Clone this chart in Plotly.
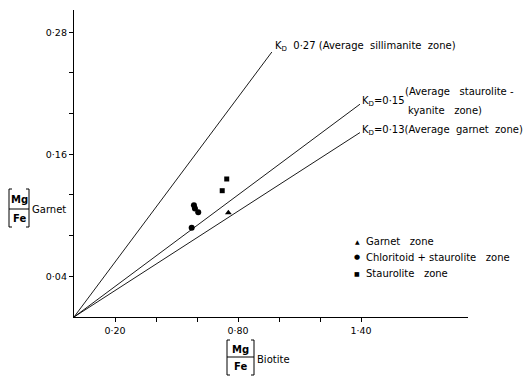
import plotly.graph_objects as go

# ---- data ----
kd_values = [0.27, 0.15, 0.13]
kd_xmax = [0.965, 1.395, 1.395]

garnet_zone_bio = [0.753]
garnet_zone_gt = [0.1026]

chloritoid_bio = [0.585, 0.590, 0.606, 0.574]
chloritoid_gt = [0.110, 0.1067, 0.1030, 0.0878]

staurolite_bio = [0.745, 0.723]
staurolite_gt = [0.1357, 0.1242]

x_tickvals = [0.2, 0.4, 0.6, 0.8, 1.0, 1.2, 1.4]
x_ticktext = ["0·20", "", "", "0·80", "", "", "1·40"]
y_tickvals = [0.04, 0.08, 0.12, 0.16, 0.20, 0.24, 0.28]
y_ticktext = ["0·04", "", "", "0·16", "", "", "0·28"]

# ---- layout geometry (page has an 8px body margin) ----
OFF = 8
W, H = 532 - OFF, 377 - OFF
L, T = 74 - OFF, 10 - OFF
PW, PH = 394, 307
R = W - L - PW
B = H - T - PH
XMAX = PW / 205.0
YMAX = PH / 1017.0

def px(xr):
    return (xr - 74) / PW

def py(yr):
    return (317 - yr) / PH

FONT = "DejaVu Sans"
FS = 10

fig = go.Figure()

for kd, xm in zip(kd_values, kd_xmax):
    fig.add_trace(go.Scatter(x=[0, xm], y=[0, kd * xm], mode="lines",
                             line=dict(color="black", width=0.9),
                             showlegend=False, hoverinfo="skip"))

fig.add_trace(go.Scatter(x=garnet_zone_bio, y=garnet_zone_gt, mode="markers",
                         marker=dict(symbol="triangle-up", size=6, color="black"),
                         showlegend=False))
fig.add_trace(go.Scatter(x=chloritoid_bio, y=chloritoid_gt, mode="markers",
                         marker=dict(symbol="circle", size=6, color="black"),
                         showlegend=False))
fig.add_trace(go.Scatter(x=staurolite_bio, y=staurolite_gt, mode="markers",
                         marker=dict(symbol="square", size=5, color="black"),
                         showlegend=False))

ann = []
def text(xr, yr, s, size=FS, xanchor="left", yanchor="middle"):
    ann.append(dict(x=px(xr), y=py(yr), xref="paper", yref="paper", text=s,
                    showarrow=False, xanchor=xanchor, yanchor=yanchor,
                    font=dict(family=FONT, size=size, color="black")))

NB = "\u00a0"
# line labels
text(273, 46, "K<sub>D</sub>" + NB * 2 + "0·27 (Average" + NB * 2 + "sillimanite" + NB * 2 + "zone)")
text(360, 101, "K<sub>D</sub>=0·15")
text(403, 91, "(Average" + NB * 3 + "staurolite -")
text(406, 110, "kyanite" + NB * 3 + "zone)")
text(360, 131, "K<sub>D</sub>=0·13(Average" + NB * 2 + "garnet" + NB * 2 + "zone)")

# legend
text(357, 241, "▲", size=6, xanchor="center")
text(357, 257, "●", size=7, xanchor="center")
text(357, 273, "■", size=6, xanchor="center")
text(364, 241, "Garnet" + NB * 3 + "zone")
text(364, 257, "Chloritoid + staurolite" + NB * 3 + "zone")
text(364, 273, "Staurolite" + NB * 3 + "zone")

# axis titles
text(19.5, 199, "<b>Mg</b>", size=FS, xanchor="center")
text(19.5, 218, "<b>Fe</b>", size=FS, xanchor="center")
text(30, 209, "Garnet", size=FS)
text(240.5, 349, "<b>Mg</b>", size=FS, xanchor="center")
text(240.5, 366, "<b>Fe</b>", size=FS, xanchor="center")
text(255, 359, "Biotite", size=FS)

shapes = []
def seg(x0, y0, x1, y1, w=1):
    shapes.append(dict(type="line", xref="paper", yref="paper",
                       x0=px(x0), y0=py(y0), x1=px(x1), y1=py(y1),
                       line=dict(color="black", width=w)))

def bracket(xl, xr, yt, yb):
    seg(xl + 3, yt, xl, yt); seg(xl, yt, xl, yb); seg(xl, yb, xl + 3, yb)
    seg(xr - 3, yt, xr, yt); seg(xr, yt, xr, yb); seg(xr, yb, xr - 3, yb)

bracket(9, 29, 189, 227)
seg(9, 209, 29, 209)
bracket(227, 254, 340, 375)
seg(227, 357, 254, 357)

fig.update_layout(
    width=W, height=H,
    margin=dict(l=L, r=R, t=T, b=B),
    paper_bgcolor="white", plot_bgcolor="white",
    annotations=ann, shapes=shapes,
    font=dict(family=FONT, size=FS, color="black"),
    xaxis=dict(range=[0, XMAX], showgrid=False, zeroline=False, showline=True,
               linecolor="black", linewidth=1.3, ticks="outside", ticklen=4,
               tickcolor="black", tickvals=x_tickvals, ticktext=x_ticktext,
               tickfont=dict(family=FONT, size=9.5, color="black")),
    yaxis=dict(range=[0, YMAX], showgrid=False, zeroline=False, showline=True,
               linecolor="black", linewidth=1.3, ticks="outside", ticklen=4,
               tickcolor="black", tickvals=y_tickvals, ticktext=y_ticktext,
               tickfont=dict(family=FONT, size=9.5, color="black")),
    showlegend=False,
)

fig.write_html("out.html")
